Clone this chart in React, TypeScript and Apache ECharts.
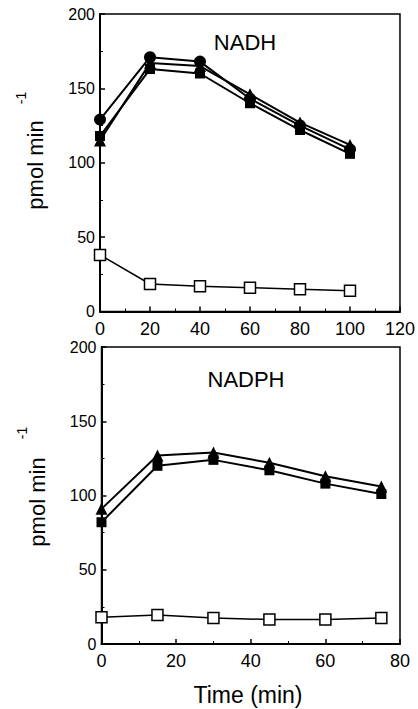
import React, { useEffect, useRef } from "react";
import * as echarts from "echarts";

const nadhTimes = [0, 20, 40, 60, 80, 100];
const nadhCircle = [129, 171, 168, 143, 125, 109];
const nadhTriangle = [115, 167, 165, 146, 127, 112];
const nadhSquare = [118, 163, 160, 140, 122, 106];
const nadhOpen = [38, 18.5, 17, 16, 15, 14];

const nadphTimes = [0, 15, 30, 45, 60, 75];
const nadphTriangle = [91, 127, 129, 122, 113, 106];
const nadphSquare = [82, 120, 124, 117, 108, 101];
const nadphOpen = [18, 19.5, 17.5, 16.5, 16.5, 17.5];

const yTicks = { min: 0, max: 200, interval: 50 };
const FONT = "Liberation Sans, Arial, Helvetica, sans-serif";

function pairs(xs: number[], ys: number[]) {
  return xs.map((x, i) => [x, ys[i]]);
}

export default function App() {
  const ref = useRef<HTMLDivElement>(null);
  useEffect(() => {
    if (!ref.current) return;
    const chart = echarts.init(ref.current, null, { renderer: "svg" });
    const xAxisBase = (gridIndex: number, max: number) => ({
      type: "value",
      gridIndex,
      min: 0,
      max,
      interval: 20,
      axisLine: { show: true, onZero: false, lineStyle: { color: "#000", width: 2 } },
      axisTick: { show: true, inside: true, length: 5, lineStyle: { color: "#000", width: 1.5 } },
      minorTick: { show: true, splitNumber: 2, length: 3, lineStyle: { color: "#000", width: 1 } },
      splitLine: { show: false },
      axisLabel: { color: "#000", fontSize: 18, fontFamily: FONT, margin: 8 },
    });
    const yAxisBase = (gridIndex: number) => ({
      type: "value",
      gridIndex,
      min: yTicks.min,
      max: yTicks.max,
      interval: yTicks.interval,
      axisLine: { show: true, onZero: false, lineStyle: { color: "#000", width: 2 } },
      axisTick: { show: true, inside: true, length: 5, lineStyle: { color: "#000", width: 1.5 } },
      minorTick: { show: true, splitNumber: 2, length: 3, lineStyle: { color: "#000", width: 1 } },
      splitLine: { show: false },
      axisLabel: { color: "#000", fontSize: 16, fontFamily: FONT, margin: 5 },
    });
    const lineSeries = (
      xi: number,
      data: number[][],
      symbol: string,
      size: number,
      open = false
    ) => ({
      type: "line",
      xAxisIndex: xi,
      yAxisIndex: xi,
      data,
      symbol,
      symbolSize: size,
      showAllSymbol: true,
      lineStyle: { color: "#000", width: open ? 1.5 : 2 },
      itemStyle: open
        ? { color: "#fff", borderColor: "#000", borderWidth: 1.5 }
        : { color: "#000", borderColor: "#000", borderWidth: 0 },
      z: open ? 3 : 2,
    });
    chart.setOption({
      animation: false,
      backgroundColor: "#fff",
      grid: [
        { left: 100, top: 14, width: 300, height: 297.5, show: true, borderColor: "#000", borderWidth: 1.5, backgroundColor: "transparent" },
        { left: 101.5, top: 347, width: 298.5, height: 297, show: true, borderColor: "#000", borderWidth: 1.5, backgroundColor: "transparent" },
      ],
      xAxis: [xAxisBase(0, 120), xAxisBase(1, 80)],
      yAxis: [yAxisBase(0), yAxisBase(1)],
      series: [
        lineSeries(0, pairs(nadhTimes, nadhTriangle), "triangle", 12),
        lineSeries(0, pairs(nadhTimes, nadhSquare), "rect", 10),
        lineSeries(0, pairs(nadhTimes, nadhCircle), "circle", 12),
        lineSeries(0, pairs(nadhTimes, nadhOpen), "rect", 11, true),
        lineSeries(1, pairs(nadphTimes, nadphTriangle), "triangle", 12),
        lineSeries(1, pairs(nadphTimes, nadphSquare), "rect", 10),
        lineSeries(1, pairs(nadphTimes, nadphOpen), "rect", 11, true),
      ],
      graphic: [
        { type: "text", x: 245, y: 42, style: { text: "NADH", fontSize: 22, fontFamily: FONT, fill: "#000", align: "center", verticalAlign: "middle" } },
        { type: "text", x: 246, y: 379, style: { text: "NADPH", fontSize: 22, fontFamily: FONT, fill: "#000", align: "center", verticalAlign: "middle" } },
        { type: "text", x: 248, y: 695, style: { text: "Time (min)", fontSize: 23, fontFamily: FONT, fill: "#000", align: "center", verticalAlign: "middle" } },
        { type: "text", x: 35, y: 165, rotation: Math.PI / 2, style: { text: "pmol min", fontSize: 22, fontFamily: FONT, fill: "#000", align: "center", verticalAlign: "middle" } },
        { type: "text", x: 21, y: 98, rotation: Math.PI / 2, style: { text: "-1", fontSize: 14, fontFamily: FONT, fill: "#000", align: "center", verticalAlign: "middle" } },
        { type: "text", x: 37, y: 502, rotation: Math.PI / 2, style: { text: "pmol min", fontSize: 22, fontFamily: FONT, fill: "#000", align: "center", verticalAlign: "middle" } },
        { type: "text", x: 22, y: 433, rotation: Math.PI / 2, style: { text: "-1", fontSize: 14, fontFamily: FONT, fill: "#000", align: "center", verticalAlign: "middle" } },
      ],
    });
    return () => chart.dispose();
  }, []);
  return (
    <div
      ref={ref}
      style={{ position: "absolute", left: 0, top: 0, width: 418, height: 709, background: "#fff" }}
    />
  );
}
